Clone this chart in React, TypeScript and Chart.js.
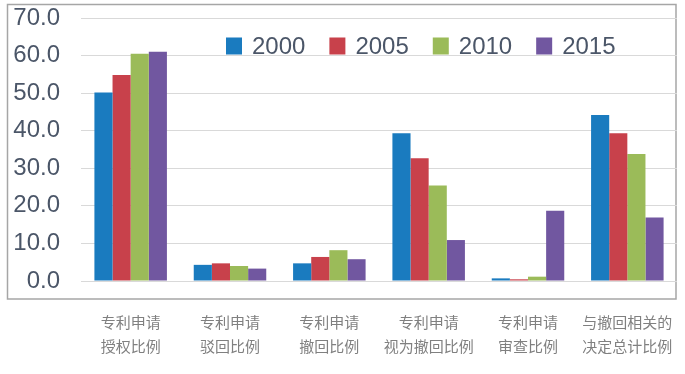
import React, { useEffect, useRef } from "react";
import { Chart, registerables } from "chart.js";

Chart.register(...registerables);

const categories: string[][] = [
  ["专利申请", "授权比例"],
  ["专利申请", "驳回比例"],
  ["专利申请", "撤回比例"],
  ["专利申请", "视为撤回比例"],
  ["专利申请", "审查比例"],
  ["与撤回相关的", "决定总计比例"],
];
const seriesNames = ["2000", "2005", "2010", "2015"];
const values2000 = [50.2, 4.3, 4.7, 39.3, 0.7, 44.2];
const values2005 = [54.8, 4.7, 6.4, 32.7, 0.45, 39.3];
const values2010 = [60.5, 4.0, 8.2, 25.4, 1.15, 33.8];
const values2015 = [61.0, 3.3, 5.8, 10.9, 18.7, 16.9];
const seriesColors = ["#1a7bbf", "#c8414b", "#9bbb59", "#7157a0"];
const yTicks = [0, 10, 20, 30, 40, 50, 60, 70];

const FONT = "'Liberation Sans', 'DejaVu Sans', sans-serif";

const framePlugin = {
  id: "frame",
  beforeDraw(chart: any) {
    const { ctx, chartArea } = chart;
    ctx.save();
    ctx.strokeStyle = "#a6a6a6";
    ctx.lineWidth = 1.5;
    const left = chartArea.left - 73.5;
    const top = chartArea.top - 13.5;
    const right = chartArea.right - 1;
    const bottom = chartArea.bottom + 18;
    ctx.strokeRect(left, top, right - left, bottom - top);
    ctx.restore();
  },
};

const legendPlugin = {
  id: "insideLegend",
  afterDraw(chart: any) {
    const { ctx, chartArea } = chart;
    ctx.save();
    ctx.font = `24px ${FONT}`;
    ctx.textBaseline = "middle";
    let x = chartArea.left + 145;
    const y = chartArea.top + 28;
    chart.data.datasets.forEach((ds: any) => {
      ctx.fillStyle = ds.backgroundColor;
      ctx.fillRect(x, y - 8.5, 16, 17);
      ctx.fillStyle = "#4b5668";
      ctx.fillText(ds.label, x + 26, y + 1);
      x += 26 + ctx.measureText(ds.label).width + 24;
    });
    ctx.restore();
  },
};

export default function App() {
  const ref = useRef<HTMLCanvasElement | null>(null);
  useEffect(() => {
    if (!ref.current) return;
    const allValues = [values2000, values2005, values2010, values2015];
    const chart = new Chart(ref.current, {
      type: "bar",
      data: {
        labels: categories,
        datasets: seriesNames.map((name, i) => ({
          label: name,
          data: allValues[i],
          backgroundColor: seriesColors[i],
          borderWidth: 0,
          categoryPercentage: 0.73,
          barPercentage: 1.0,
        })),
      },
      options: {
        responsive: false,
        animation: false,
        devicePixelRatio: 1,
        layout: { padding: { left: 0, top: 18, right: 8, bottom: 0 } },
        plugins: {
          legend: { display: false },
          tooltip: { enabled: false },
        },
        scales: {
          x: {
            afterFit(scale: any) {
              scale.height = 93;
              scale.paddingLeft = 0;
              scale.paddingRight = 0;
            },
            grid: { display: false, drawTicks: false },
            border: { display: false },
            ticks: {
              color: "#808080",
              font: { family: "'Noto Sans CJK SC', sans-serif", size: 15, lineHeight: 1.55 },
              padding: 30,
              maxRotation: 0,
              autoSkip: false,
            },
          },
          y: {
            min: 0,
            max: 70,
            afterFit(scale: any) {
              scale.width = 81;
              scale.paddingTop = 0;
              scale.paddingBottom = 0;
            },
            afterBuildTicks(scale: any) {
              scale.ticks = yTicks.map((v) => ({ value: v }));
            },
            grid: { color: "#d9d9d9", lineWidth: 1, drawTicks: false },
            border: { display: false },
            ticks: {
              color: "#4b5668",
              font: { family: FONT, size: 24 },
              padding: 21,
              autoSkip: false,
              callback: (v: any) => Number(v).toFixed(1),
            },
          },
        },
      },
      plugins: [framePlugin, legendPlugin],
    });
    return () => chart.destroy();
  }, []);
  return (
    <div style={{ position: "absolute", left: 0, top: 0, width: 685, height: 374, background: "#fff" }}>
      <canvas ref={ref} width={685} height={374} style={{ width: 685, height: 374 }} />
    </div>
  );
}
